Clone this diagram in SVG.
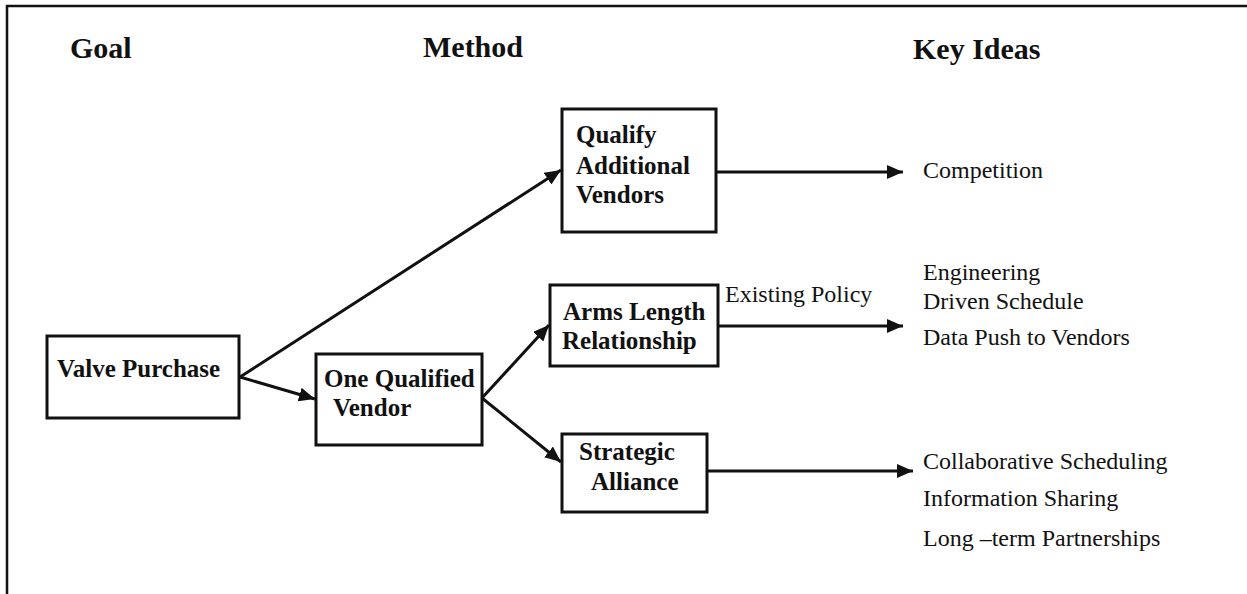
<svg xmlns="http://www.w3.org/2000/svg" width="1247" height="594" viewBox="0 0 1247 594">
<style>
.frame{fill:none;stroke:#111;stroke-width:2.5}
.box{fill:#fff;stroke:#111;stroke-width:3}
.hdr{font-family:"Liberation Serif",serif;font-weight:bold;font-size:30px;fill:#111}
.nb{font-family:"Liberation Serif",serif;font-weight:bold;font-size:25px;fill:#111}
.ki{font-family:"Liberation Serif",serif;font-size:24px;fill:#111}
.con{stroke:#111;stroke-width:3;fill:none;marker-end:url(#ah)}
</style>
<defs>
<marker id="ah" markerUnits="userSpaceOnUse" markerWidth="18" markerHeight="14" refX="16" refY="7" orient="auto">
<path d="M0,0 L16,7 L0,14 z" fill="#111"/>
</marker>
</defs>
<rect width="1247" height="594" fill="#fff"/>
<path class="frame" d="M7,594 L7,6 L1247,6"/>
<g id="headers">
<text class="hdr" x="70" y="58">Goal</text>
<text class="hdr" x="423" y="57">Method</text>
<text class="hdr" x="913" y="59">Key Ideas</text>
</g>
<g id="connectors">
<line class="con" x1="240" y1="377" x2="561" y2="170"/>
<line class="con" x1="240" y1="377" x2="315" y2="399"/>
<line class="con" x1="482" y1="398" x2="549" y2="325"/>
<line class="con" x1="482" y1="398" x2="561" y2="462"/>
<line class="con" x1="716" y1="172" x2="903" y2="172"/>
<line class="con" x1="718" y1="326" x2="903" y2="326"/>
<line class="con" x1="707" y1="471" x2="913" y2="471"/>
</g>
<g id="valve-purchase">
<rect class="box" x="47" y="336" width="192" height="82"/>
<text class="nb" x="57" y="377">Valve Purchase</text>
</g>
<g id="one-qualified-vendor">
<rect class="box" x="316" y="354" width="166" height="91"/>
<text class="nb" x="324" y="387">One Qualified</text>
<text class="nb" x="333" y="416">Vendor</text>
</g>
<g id="qualify-additional-vendors">
<rect class="box" x="562" y="109" width="154" height="123"/>
<text class="nb" x="576" y="143">Qualify</text>
<text class="nb" x="576" y="174">Additional</text>
<text class="nb" x="576" y="203">Vendors</text>
</g>
<g id="arms-length-relationship">
<rect class="box" x="550" y="285" width="168" height="81"/>
<text class="nb" x="563" y="320">Arms Length</text>
<text class="nb" x="562" y="349">Relationship</text>
</g>
<g id="strategic-alliance">
<rect class="box" x="562" y="434" width="145" height="78"/>
<text class="nb" x="579" y="460">Strategic</text>
<text class="nb" x="591" y="490">Alliance</text>
</g>
<g id="existing-policy-label">
<text class="ki" x="725" y="302">Existing Policy</text>
</g>
<g id="key-competition">
<text class="ki" x="923" y="178">Competition</text>
</g>
<g id="key-arms">
<text class="ki" x="923" y="280">Engineering</text>
<text class="ki" x="923" y="309">Driven Schedule</text>
<text class="ki" x="923" y="345">Data Push to Vendors</text>
</g>
<g id="key-strategic">
<text class="ki" x="923" y="469">Collaborative Scheduling</text>
<text class="ki" x="923" y="506">Information Sharing</text>
<text class="ki" x="923" y="546">Long –term Partnerships</text>
</g>
</svg>
